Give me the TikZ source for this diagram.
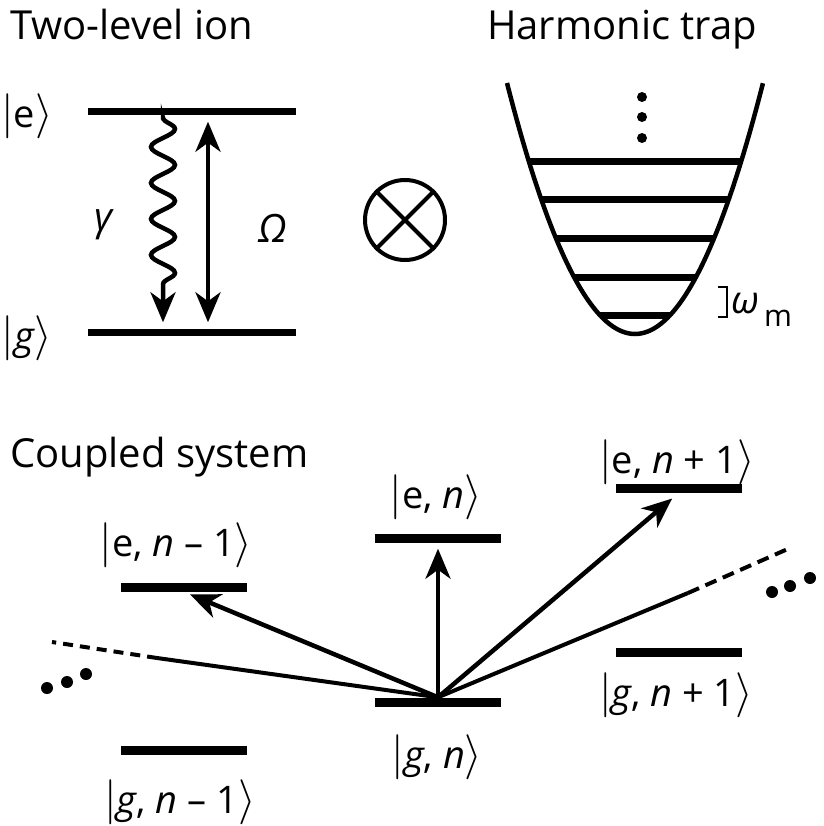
\documentclass[tikz,border=0pt]{standalone}
\usepackage{graphicx}
\usepackage{fontspec}
\setmainfont{Open Sans}
\usetikzlibrary{arrows.meta,decorations.pathmorphing}
\newcommand{\kbar}{\scalebox{4.5}{\fontsize{10}{12}\selectfont$|$}}
\newcommand{\kang}{\scalebox{4.5}{\fontsize{10}{12}\selectfont$\rangle$}}
\newcommand{\kt}[1]{\kbar#1\kang}
\tikzset{mytip/.tip={Stealth[length=30pt,width=25pt,inset=9pt]}}
\begin{document}
\begin{tikzpicture}[x=1pt,y=-1pt,
  lvl/.style={fill=black, inner sep=0, minimum width=208pt, minimum height=7pt},
  blvl/.style={fill=black, inner sep=0, minimum width=126pt, minimum height=9pt},
  lab/.style={inner sep=0, font=\fontsize{38}{45}\selectfont},
  ttl/.style={inner sep=0, anchor=base west, font=\fontsize{40}{48}\selectfont},
  arr/.style={line width=4.5pt, -{mytip}},
  thin/.style={line width=4pt},
]
\useasboundingbox (0,0) rectangle (823,826);
% titles
\node[ttl] (t1) at (10,40) {Two-level ion};
\node[ttl] (t2) at (487,40) {Harmonic trap};
\node[ttl] (t3) at (10,467) {Coupled system};
% two-level ion
\node[lvl] (e) at (192,112) {};
\node[lvl] (g) at (192,332) {};
\node[lab] (el) at (27,116) {\kt{e}};
\node[lab] (gl) at (27,338) {\kt{\textit{g}}};
\draw[line width=4.5pt, decorate, decoration={snake, segment length=36pt, amplitude=12pt, post length=32pt, pre length=2pt}, -{mytip}, shorten <=4pt, shorten >=6pt]
  ([xshift=-29pt]e.south) -- ([xshift=-29pt]g.north);
\draw[line width=4.5pt, {mytip}-{mytip}, shorten <=6pt, shorten >=6pt]
  ([xshift=16pt]e.south) -- ([xshift=16pt]g.north);
\node[lab, font=\fontsize{39}{47}\selectfont\itshape] (gam) at (103,225) {γ};
\node[lab, font=\fontsize{39}{47}\selectfont\itshape] (Om) at (273,228) {Ω};
% tensor product
\node[circle, draw, line width=4pt, minimum size=80pt, inner sep=0] (ot) at (405,220) {};
\draw[line width=4pt] (ot.north west) -- (ot.south east);
\draw[line width=4pt] (ot.north east) -- (ot.south west);
% harmonic trap
\draw[line width=4.5pt, domain=-1:1, samples=81, smooth] plot ({635+128*\x},{334-251*\x*\x});
\foreach \yy/\hw in {162/106,200/93.5,238/79.2,277/61,315/35.2}
  \draw[line width=7pt] ({635-\hw},\yy) -- ({635+\hw},\yy);
\fill (642,97) circle (5pt) (642,117) circle (5pt) (642,138) circle (5pt);
\draw[line width=2.5pt] (718,287) -- (727,287) -- (727,317) -- (718,317);
\node[inner sep=0, anchor=base west, font=\fontsize{38}{45}\selectfont\itshape] (om) at (731,313) {ω};
\node[inner sep=0, anchor=base west, font=\fontsize{30}{36}\selectfont] (mm) at (764,326) {m};
% coupled system levels
\node[blvl] (en1) at (183.5,587) {};
\node[blvl] (gn1) at (183.5,750) {};
\node[blvl] (en) at (438,538) {};
\node[blvl] (gn) at (438,702) {};
\node[blvl] (ep1) at (679,488) {};
\node[blvl] (gp1) at (679,652) {};
\node[lab] (len1) at (176,545) {\kt{e, \textit{n} – 1}};
\node[lab] (lgn1) at (180,802) {\kt{\textit{g}, \textit{n} – 1}};
\node[lab] (lgn) at (437,757) {\kt{\textit{g}, \textit{n}}};
\node[lab] (len) at (436,497) {\kt{e, \textit{n}}};
\node[lab] (lep1) at (677,462) {\kt{e, \textit{n} + 1}};
\node[lab] (lgp1) at (676,695) {\kt{\textit{g}, \textit{n} + 1}};
% transitions
\draw[arr, shorten >=7pt] (gn.north) -- (en1.south);
\draw[arr, shorten >=6pt] (gn.north) -- (en.south);
\draw[arr, shorten >=9pt] (gn.north) -- (ep1.south);
\coordinate (l1) at (157,658);
\coordinate (l2) at (52,642);
\coordinate (r1) at (688,593);
\coordinate (r2) at (790,548);
\draw[thin] (gn.north) -- (l1);
\draw[thin, dash pattern=on 10pt off 7pt] (l1) -- (l2);
\draw[thin] (gn.north) -- (r1);
\draw[thin, dash pattern=on 12pt off 7pt] (r1) -- (r2);
\fill (47,688) circle (6pt) (67,682) circle (6pt) (86,674) circle (6pt);
\fill (772,592) circle (6pt) (790,586) circle (6pt) (810,578) circle (6pt);
\end{tikzpicture}
\end{document}
